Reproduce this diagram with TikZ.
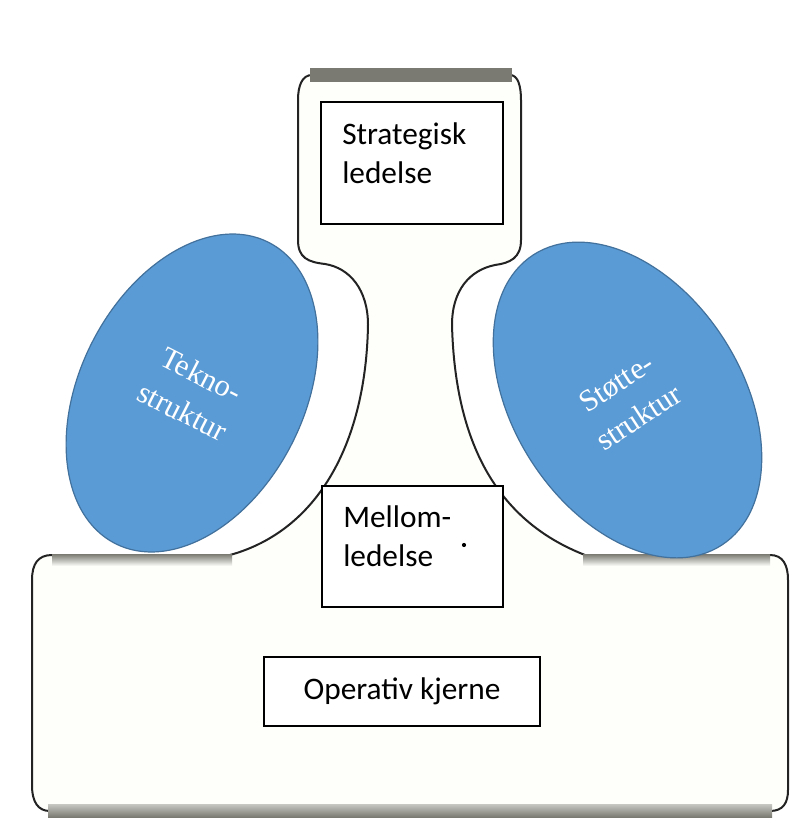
\documentclass[tikz,border=0pt]{standalone}
\usepackage{fontspec}
\setmainfont{Liberation Serif}
\newfontfamily\calibri{Carlito}
\usetikzlibrary{shapes.geometric}
\definecolor{ellfill}{HTML}{5B9BD5}
\definecolor{elldraw}{HTML}{41719C}
\definecolor{inside}{HTML}{FEFEFB}
\definecolor{bandgray}{RGB}{122,122,114}
\definecolor{outlinecol}{RGB}{35,35,35}
\begin{document}
\begin{tikzpicture}[x=0.75pt,y=-0.75pt,
  boxnode/.style={draw=black, line width=1.2pt, fill=white, rectangle, inner sep=0pt},
  boxtext/.style={font=\calibri\fontsize{23.5}{29.5}\selectfont, inner sep=0pt, align=left},
  ellnode/.style={ellipse, fill=ellfill, draw=elldraw, line width=0.9pt, inner sep=0pt,
    text=white, align=center, font=\fontsize{23}{31}\selectfont},
  shapeline/.style={draw=outlinecol, line width=1.5pt}
]
\path[use as bounding box, fill=white] (0,0) rectangle (795,821);

% main outline shape
\path[shapeline, fill=inside]
 (312,75) -- (510,75)
 .. controls (518,75) and (521,86) .. (521,100)
 -- (521,240)
 .. controls (521,258) and (510,263) .. (495,265)
 .. controls (470,270) and (452,290) .. (452,325)
 .. controls (455,440) and (495,520) .. (585,555)
 -- (770,555)
 .. controls (783,555) and (788,565) .. (788,580)
 -- (788,790)
 .. controls (788,803) and (783,811) .. (770,811)
 -- (50,811)
 .. controls (38,811) and (32,802) .. (32,785)
 -- (32,580)
 .. controls (32,564) and (38,555) .. (52,555)
 -- (230,555)
 .. controls (320,530) and (366,440) .. (368,325)
 .. controls (368,290) and (350,268) .. (325,264)
 .. controls (308,262) and (298,258) .. (298,240)
 -- (298,100)
 .. controls (298,86) and (302,75) .. (312,75) -- cycle;

% grey shadow bands
\fill[bandgray] (310,68) rectangle (512,82);
\shade[top color=bandgray, bottom color=inside] (52,554) rectangle (232,566);
\shade[top color=bandgray, bottom color=inside] (583,554) rectangle (770,566);
\shade[top color={rgb,255:red,200;green,200;blue,195}, bottom color=bandgray] (48,804) rectangle (772,817);

% ellipses
\node[ellnode, minimum width=168pt, minimum height=253.5pt, rotate=-27] (tekno) at (192,393) {Tekno-\\struktur};
\node[ellnode, minimum width=171pt, minimum height=259.5pt, rotate=33] (stotte) at (627.5,400) {Støtte-\\struktur};

% boxes
\node[boxnode, minimum width=136.5pt, minimum height=91.5pt] (strat) at (412,163) {};
\node[boxtext, anchor=north west] (strattxt) at (342,122) {Strategisk\\ledelse};

\node[boxnode, minimum width=135.75pt, minimum height=90.75pt] (mell) at (412.5,546.5) {};
\node[boxtext, anchor=north west] (melltxt) at (343,505) {Mellom-\\ledelse};
\node[circle, fill=black, inner sep=1.1pt] (dot) at (464,545) {};

\node[boxnode, minimum width=207pt, minimum height=51.75pt, font=\calibri\fontsize{23.5}{29.5}\selectfont] (oper) at (402,691.5) {Operativ kjerne};
\end{tikzpicture}
\end{document}
